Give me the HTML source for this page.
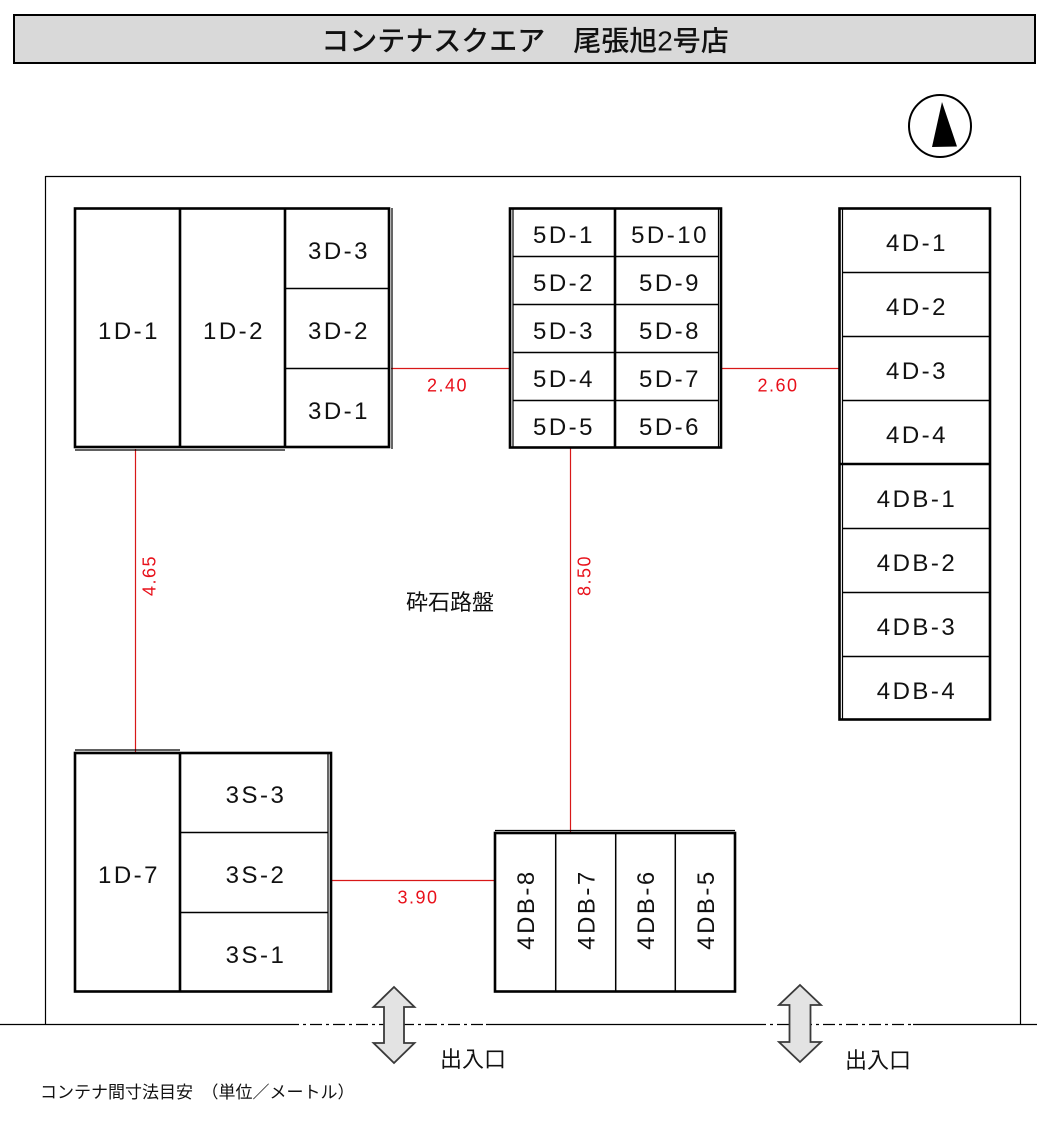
<!DOCTYPE html>
<html><head><meta charset="utf-8"><style>
html,body{margin:0;padding:0;background:#fff;}
svg{display:block;}
.lb{font-family:"Liberation Sans",sans-serif;font-size:24px;fill:#111;letter-spacing:2.5px;}
.rd{font-family:"Liberation Sans",sans-serif;font-size:18px;fill:#e8101a;letter-spacing:1.5px;}
.jp{font-family:"Liberation Sans","Noto Sans CJK JP",sans-serif;fill:#111;}
</style></head><body>
<svg width="1051" height="1137" viewBox="0 0 1051 1137" xmlns="http://www.w3.org/2000/svg">
<rect x="0" y="0" width="1051" height="1137" fill="#fff"/>
<!-- header -->
<rect x="14" y="15" width="1021" height="48" fill="#d9d9d9" stroke="#000" stroke-width="2"/>
<text class="jp" x="525" y="50.5" text-anchor="middle" font-size="28" font-weight="500">コンテナスクエア　尾張旭2号店</text>
<!-- compass -->
<ellipse cx="940" cy="126" rx="31" ry="31" fill="#fff" stroke="#000" stroke-width="2"/>
<polygon points="942,102 932,147 957,146.5" fill="#000"/>
<!-- site boundary -->
<g stroke="#000" stroke-width="1.2" fill="none">
<line x1="45.5" y1="176.5" x2="1020.5" y2="176.5"/>
<line x1="45.5" y1="176" x2="45.5" y2="1024.5"/>
<line x1="1020.5" y1="176" x2="1020.5" y2="1024.5"/>
<line x1="0" y1="1024.5" x2="287" y2="1024.5"/>
<line x1="486" y1="1024.5" x2="754" y2="1024.5"/>
<line x1="913" y1="1024.5" x2="1037" y2="1024.5"/>
<line x1="287" y1="1024.5" x2="486" y2="1024.5" stroke-dasharray="12 4 3 4"/>
<line x1="754" y1="1024.5" x2="913" y2="1024.5" stroke-dasharray="12 4 3 4"/>
</g>
<!-- red dimension lines -->
<g stroke="#d81818" stroke-width="1.2">
<line x1="135.5" y1="449" x2="135.5" y2="752"/>
<line x1="391" y1="368.5" x2="510" y2="368.5"/>
<line x1="570.5" y1="448" x2="570.5" y2="832"/>
<line x1="721" y1="368.5" x2="839" y2="368.5"/>
<line x1="331" y1="880.5" x2="495" y2="880.5"/>
</g>
<text class="rd" x="447.5" y="391.5" text-anchor="middle">2.40</text>
<text class="rd" x="778" y="391.5" text-anchor="middle">2.60</text>
<text class="rd" x="418" y="903.5" text-anchor="middle">3.90</text>
<text class="rd" transform="rotate(-90 149 576)" x="149.5" y="582.5" text-anchor="middle">4.65</text>
<text class="rd" transform="rotate(-90 584 576)" x="584.5" y="582.5" text-anchor="middle">8.50</text>
<text class="jp" x="406" y="610" font-size="22" fill="#222">砕石路盤</text>

<!-- Block A -->
<g fill="none" stroke="#000">
<rect x="75" y="208.5" width="314" height="238.5" stroke-width="2.6"/>
<line x1="392" y1="208" x2="392" y2="449" stroke-width="1.2"/>
<line x1="75" y1="450" x2="285" y2="450" stroke-width="1.2"/>
<line x1="180" y1="208" x2="180" y2="447" stroke-width="2.6"/>
<line x1="285" y1="208" x2="285" y2="447" stroke-width="2.6"/>
<line x1="285" y1="288.5" x2="389" y2="288.5" stroke-width="1.5"/>
<line x1="285" y1="368.5" x2="389" y2="368.5" stroke-width="1.5"/>
</g>
<text class="lb" x="129" y="339" text-anchor="middle">1D-1</text>
<text class="lb" x="234" y="339" text-anchor="middle">1D-2</text>
<text class="lb" x="339" y="259" text-anchor="middle">3D-3</text>
<text class="lb" x="339" y="339" text-anchor="middle">3D-2</text>
<text class="lb" x="339" y="419" text-anchor="middle">3D-1</text>

<!-- Block B -->
<g fill="none" stroke="#000">
<rect x="510" y="208.5" width="211" height="239" stroke-width="2.6"/>
<line x1="513" y1="208" x2="513" y2="448" stroke-width="1.2"/>
<line x1="718.5" y1="208" x2="718.5" y2="448" stroke-width="1.2"/>
<line x1="615" y1="208" x2="615" y2="448" stroke-width="2.6"/>
<line x1="513" y1="256.5" x2="718" y2="256.5" stroke-width="1.5"/>
<line x1="513" y1="304.5" x2="718" y2="304.5" stroke-width="1.5"/>
<line x1="513" y1="352.5" x2="718" y2="352.5" stroke-width="1.5"/>
<line x1="513" y1="400.5" x2="718" y2="400.5" stroke-width="1.5"/>
</g>
<text class="lb" x="564" y="243" text-anchor="middle">5D-1</text>
<text class="lb" x="564" y="291" text-anchor="middle">5D-2</text>
<text class="lb" x="564" y="339" text-anchor="middle">5D-3</text>
<text class="lb" x="564" y="387" text-anchor="middle">5D-4</text>
<text class="lb" x="564" y="435" text-anchor="middle">5D-5</text>
<text class="lb" x="670" y="243" text-anchor="middle">5D-10</text>
<text class="lb" x="670" y="291" text-anchor="middle">5D-9</text>
<text class="lb" x="670" y="339" text-anchor="middle">5D-8</text>
<text class="lb" x="670" y="387" text-anchor="middle">5D-7</text>
<text class="lb" x="670" y="435" text-anchor="middle">5D-6</text>

<!-- Block D -->
<g fill="none" stroke="#000">
<rect x="839.5" y="208.5" width="150.5" height="511" stroke-width="2.6"/>
<line x1="842.5" y1="208" x2="842.5" y2="719" stroke-width="1.2"/>
<line x1="842" y1="272.5" x2="990" y2="272.5" stroke-width="1.5"/>
<line x1="842" y1="336.5" x2="990" y2="336.5" stroke-width="1.5"/>
<line x1="842" y1="400.5" x2="990" y2="400.5" stroke-width="1.5"/>
<line x1="839" y1="464" x2="990" y2="464" stroke-width="2.6"/>
<line x1="842" y1="528.5" x2="990" y2="528.5" stroke-width="1.5"/>
<line x1="842" y1="592.5" x2="990" y2="592.5" stroke-width="1.5"/>
<line x1="842" y1="656.5" x2="990" y2="656.5" stroke-width="1.5"/>
</g>
<text class="lb" x="917" y="251" text-anchor="middle">4D-1</text>
<text class="lb" x="917" y="315" text-anchor="middle">4D-2</text>
<text class="lb" x="917" y="379" text-anchor="middle">4D-3</text>
<text class="lb" x="917" y="443" text-anchor="middle">4D-4</text>
<text class="lb" x="917" y="507" text-anchor="middle">4DB-1</text>
<text class="lb" x="917" y="571" text-anchor="middle">4DB-2</text>
<text class="lb" x="917" y="635" text-anchor="middle">4DB-3</text>
<text class="lb" x="917" y="699" text-anchor="middle">4DB-4</text>

<!-- Block C -->
<g fill="none" stroke="#000">
<rect x="75" y="753" width="256" height="238.5" stroke-width="2.6"/>
<line x1="75" y1="750" x2="180" y2="750" stroke-width="1.2"/>
<line x1="328" y1="753" x2="328" y2="991" stroke-width="1.2"/>
<line x1="180" y1="752" x2="180" y2="991" stroke-width="2.6"/>
<line x1="180" y1="832.5" x2="328" y2="832.5" stroke-width="1.5"/>
<line x1="180" y1="912.5" x2="328" y2="912.5" stroke-width="1.5"/>
</g>
<text class="lb" x="129" y="883" text-anchor="middle">1D-7</text>
<text class="lb" x="256" y="803" text-anchor="middle">3S-3</text>
<text class="lb" x="256" y="883" text-anchor="middle">3S-2</text>
<text class="lb" x="256" y="963" text-anchor="middle">3S-1</text>

<!-- Block E -->
<g fill="none" stroke="#000">
<rect x="495" y="833" width="240" height="158.5" stroke-width="2.6"/>
<line x1="495" y1="830.5" x2="735" y2="830.5" stroke-width="1.2"/>
<line x1="555.7" y1="833" x2="555.7" y2="991" stroke-width="1.5"/>
<line x1="615.7" y1="833" x2="615.7" y2="991" stroke-width="1.5"/>
<line x1="675.3" y1="833" x2="675.3" y2="991" stroke-width="1.5"/>
</g>
<text class="lb" transform="rotate(-90 525.5 911)" x="527" y="919.6" text-anchor="middle">4DB-8</text>
<text class="lb" transform="rotate(-90 585.7 911)" x="587.2" y="919.6" text-anchor="middle">4DB-7</text>
<text class="lb" transform="rotate(-90 645.5 911)" x="647" y="919.6" text-anchor="middle">4DB-6</text>
<text class="lb" transform="rotate(-90 705.2 911)" x="706.7" y="919.6" text-anchor="middle">4DB-5</text>

<!-- entrance arrows -->
<polygon points="394,987 414.5,1007 404,1007 404,1043 414.5,1043 394,1063 373.5,1043 384,1043 384,1007 373.5,1007" fill="#e3e3e3" stroke="#3a3a3a" stroke-width="1.8" stroke-linejoin="miter"/>
<polygon points="800,985 821,1005 810.5,1005 810.5,1042 821,1042 800,1062 779,1042 789.5,1042 789.5,1005 779,1005" fill="#e3e3e3" stroke="#3a3a3a" stroke-width="1.8" stroke-linejoin="miter"/>
<text class="jp" x="440" y="1067" font-size="22">出入口</text>
<text class="jp" x="845" y="1068" font-size="22">出入口</text>

<text class="jp" x="40" y="1098" font-size="17" fill="#222">コンテナ間寸法目安　（単位／メートル）</text>
</svg>
</body></html>
